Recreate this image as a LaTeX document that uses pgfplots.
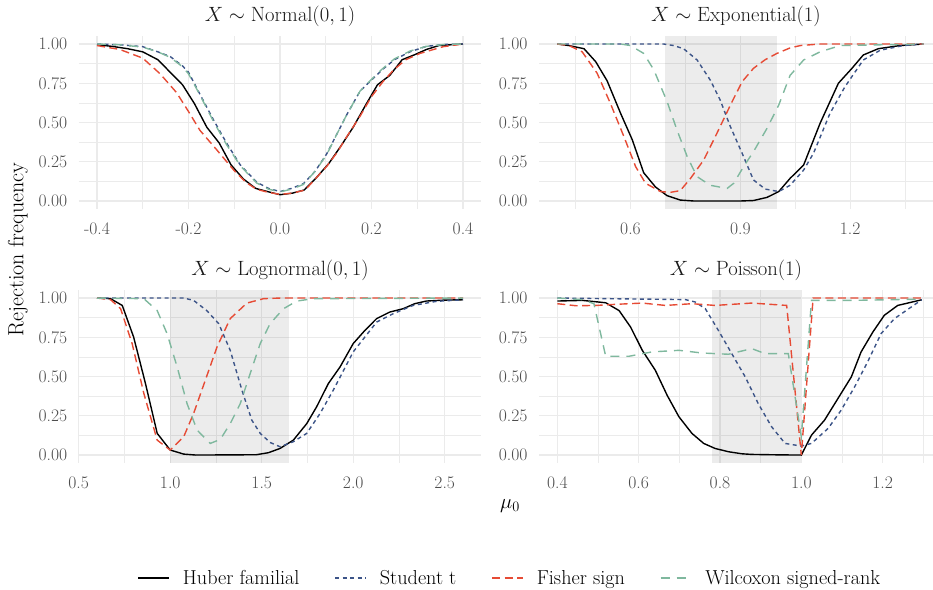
\documentclass[border=0pt]{standalone}
\usepackage{pgfplots}
\pgfplotsset{compat=1.18}
\definecolor{gridc}{HTML}{EBEBEB}
\definecolor{tickc}{HTML}{4D4D4D}
\definecolor{stripc}{HTML}{1A1A1A}
\definecolor{cStudent}{HTML}{3C5488}
\definecolor{cFisher}{HTML}{E64B35}
\definecolor{cWilcox}{HTML}{7FB89E}
\pgfplotsset{
  panel/.style={
    scale only axis, height=172.7bp,
    ymin=-0.05, ymax=1.05,
    ytick={0,0.25,0.5,0.75,1}, yticklabels={0.00,0.25,0.50,0.75,1.00},
    minor ytick={0.125,0.375,0.625,0.875},
    grid=both,
    major grid style={draw=gridc, line width=1.1bp},
    minor grid style={draw=gridc, line width=0.55bp},
    axis line style={draw=none},
    major tick length=0pt, minor tick length=0pt,
    tick style={draw=none},
    tick label style={font=\fontsize{17.6bp}{20bp}\selectfont, text=tickc},
    xticklabel style={anchor=base, yshift=-26bp},
    yticklabel style={anchor=east, xshift=-8bp},
    title style={at={(0.5,1)}, anchor=base, yshift=8.5bp, font=\fontsize{19.5bp}{22bp}\selectfont, text=stripc},
    every axis plot/.append style={line width=1.4bp},
  },
  huber/.style={black, solid},
  student/.style={cStudent, dash pattern=on 4bp off 3.5bp},
  fisher/.style={cFisher, dash pattern=on 8bp off 4.5bp},
  wilcox/.style={cWilcox, dash pattern=on 9bp off 7bp},
  shade/.style={fill=black, fill opacity=0.075, draw=none, forget plot},
}
\begin{document}
\begin{tikzpicture}
% ---------------- Normal
\begin{axis}[panel, at={(78.7bp,381.15bp)}, anchor=south west, width=402.6bp,
  xmin=-0.44, xmax=0.44,
  xtick={-0.4,-0.2,0,0.2,0.4}, xticklabels={-0.4,-0.2,0.0,0.2,0.4},
  minor xtick={-0.3,-0.1,0.1,0.3},
  title={$X \sim \mathrm{Normal}(0,1)$}]
\addplot[huber] coordinates {(-0.4,0.995) (-0.367,0.985) (-0.333,0.97) (-0.3,0.95) (-0.267,0.90) (-0.24,0.82) (-0.213,0.74) (-0.187,0.62) (-0.16,0.47) (-0.133,0.37) (-0.107,0.23) (-0.08,0.14) (-0.053,0.08) (-0.027,0.06) (0,0.04) (0.027,0.05) (0.053,0.07) (0.08,0.15) (0.107,0.24) (0.133,0.35) (0.16,0.47) (0.187,0.61) (0.213,0.74) (0.24,0.80) (0.267,0.90) (0.293,0.93) (0.32,0.965) (0.347,0.99) (0.373,0.995) (0.4,1.0)};
\addplot[student] coordinates {(-0.4,1.0) (-0.35,0.995) (-0.3,0.983) (-0.267,0.95) (-0.24,0.92) (-0.213,0.86) (-0.2,0.82) (-0.175,0.68) (-0.146,0.52) (-0.117,0.37) (-0.087,0.23) (-0.051,0.12) (-0.025,0.08) (0,0.06) (0.025,0.08) (0.051,0.11) (0.077,0.19) (0.102,0.30) (0.125,0.43) (0.146,0.55) (0.175,0.70) (0.2,0.77) (0.225,0.84) (0.25,0.90) (0.284,0.95) (0.32,0.985) (0.36,0.997) (0.4,1.0)};
\addplot[fisher] coordinates {(-0.4,0.99) (-0.35,0.965) (-0.3,0.91) (-0.262,0.81) (-0.226,0.69) (-0.2,0.57) (-0.175,0.45) (-0.138,0.325) (-0.102,0.20) (-0.075,0.12) (-0.051,0.074) (-0.025,0.055) (0,0.042) (0.027,0.05) (0.055,0.07) (0.08,0.15) (0.102,0.22) (0.125,0.31) (0.146,0.41) (0.175,0.54) (0.2,0.665) (0.225,0.76) (0.248,0.834) (0.275,0.9) (0.306,0.94) (0.357,0.983) (0.4,1.0)};
\addplot[wilcox] coordinates {(-0.4,1.0) (-0.35,0.995) (-0.3,0.98) (-0.267,0.95) (-0.24,0.915) (-0.213,0.855) (-0.2,0.81) (-0.175,0.675) (-0.146,0.51) (-0.117,0.36) (-0.087,0.225) (-0.051,0.115) (-0.025,0.075) (0,0.058) (0.025,0.075) (0.051,0.105) (0.077,0.19) (0.102,0.295) (0.125,0.43) (0.146,0.55) (0.175,0.70) (0.2,0.775) (0.225,0.845) (0.25,0.905) (0.284,0.955) (0.32,0.985) (0.36,0.997) (0.4,1.0)};
\end{axis}
% ---------------- Exponential
\begin{axis}[panel, at={(539bp,381.15bp)}, anchor=south west, width=394bp,
  xmin=0.35, xmax=1.4265,
  xtick={0.6,0.9,1.2}, xticklabels={0.6,0.9,1.2},
  minor xtick={0.45,0.75,1.05,1.35},
  title={$X \sim \mathrm{Exponential}(1)$}]
\addplot[shade] coordinates {(0.6931,-0.05) (1,-0.05) (1,1.05) (0.6931,1.05)} -- cycle;
\addplot[huber] coordinates {(0.4,1.0) (0.432,0.99) (0.473,0.97) (0.505,0.887) (0.536,0.766) (0.573,0.558) (0.605,0.389) (0.636,0.18) (0.668,0.09) (0.7,0.034) (0.736,0.006) (0.773,0.0) (0.9,0.0) (0.936,0.003) (0.973,0.023) (1.005,0.06) (1.036,0.144) (1.073,0.229) (1.118,0.495) (1.168,0.75) (1.205,0.845) (1.236,0.93) (1.277,0.97) (1.336,0.99) (1.4,1.0)};
\addplot[student] coordinates {(0.4,1.0) (0.69,1.0) (0.718,0.99) (0.745,0.97) (0.782,0.898) (0.818,0.77) (0.845,0.643) (0.873,0.473) (0.905,0.304) (0.936,0.134) (0.968,0.076) (1.005,0.06) (1.036,0.10) (1.073,0.197) (1.1,0.304) (1.145,0.558) (1.186,0.728) (1.236,0.898) (1.282,0.96) (1.345,0.99) (1.4,1.0)};
\addplot[fisher] coordinates {(0.4,1.0) (0.432,0.99) (0.468,0.95) (0.509,0.813) (0.545,0.622) (0.582,0.41) (0.614,0.219) (0.641,0.113) (0.682,0.06) (0.709,0.055) (0.736,0.066) (0.764,0.144) (0.8,0.261) (0.836,0.431) (0.873,0.611) (0.905,0.76) (0.936,0.845) (0.968,0.90) (1.0,0.94) (1.036,0.975) (1.064,0.99) (1.118,1.0) (1.4,1.0)};
\addplot[wilcox] coordinates {(0.4,1.0) (0.573,1.0) (0.6,0.99) (0.636,0.94) (0.664,0.834) (0.7,0.633) (0.727,0.452) (0.755,0.282) (0.782,0.155) (0.818,0.10) (0.864,0.08) (0.882,0.113) (0.909,0.219) (0.936,0.314) (0.973,0.463) (1.005,0.611) (1.036,0.80) (1.073,0.898) (1.118,0.95) (1.173,0.99) (1.4,1.0)};
\end{axis}
% ---------------- Lognormal
\begin{axis}[panel, at={(78.7bp,127.1bp)}, anchor=south west, width=402.6bp,
  xmin=0.5, xmax=2.7,
  xtick={0.5,1,1.5,2,2.5}, xticklabels={0.5,1.0,1.5,2.0,2.5},
  minor xtick={0.75,1.25,1.75,2.25},
  title={$X \sim \mathrm{Lognormal}(0,1)$},
  legend columns=4,
  legend style={at={(1.071,-0.666)}, anchor=center, draw=none, fill=none,
    font=\fontsize{20.2bp}{23bp}\selectfont, text=black,
    /tikz/every odd column/.append style={column sep=11bp},
    /tikz/every even column/.append style={column sep=33bp}},
  legend image code/.code={\draw[#1, line width=1.4bp] (0bp,0bp) -- (31bp,0bp);}]
\addplot[shade] coordinates {(1,-0.05) (1.6487,-0.05) (1.6487,1.05) (1,1.05)} -- cycle;
\addplot[huber] coordinates {(0.6,1.0) (0.674,0.996) (0.738,0.953) (0.8,0.752) (0.865,0.455) (0.929,0.138) (1.0,0.032) (1.074,0.006) (1.14,0.0) (1.47,0.002) (1.537,0.015) (1.6,0.042) (1.673,0.095) (1.746,0.20) (1.80,0.307) (1.864,0.455) (1.928,0.561) (2.0,0.71) (2.064,0.794) (2.128,0.869) (2.2,0.911) (2.273,0.932) (2.336,0.964) (2.4,0.981) (2.5,0.987) (2.6,0.989)};
\addlegendentry{Huber familial}
\addplot[student] coordinates {(0.6,1.0) (1.074,1.0) (1.128,0.985) (1.2,0.92) (1.265,0.837) (1.328,0.667) (1.392,0.413) (1.446,0.222) (1.492,0.138) (1.546,0.08) (1.6,0.053) (1.673,0.085) (1.746,0.138) (1.819,0.265) (1.891,0.413) (2.0,0.657) (2.128,0.847) (2.218,0.90) (2.327,0.953) (2.455,0.979) (2.6,0.989)};
\addlegendentry{Student t}
\addplot[fisher] coordinates {(0.6,1.0) (0.674,0.99) (0.729,0.932) (0.792,0.71) (0.856,0.392) (0.929,0.095) (1.0,0.032) (1.074,0.117) (1.128,0.265) (1.192,0.477) (1.256,0.689) (1.328,0.869) (1.419,0.968) (1.51,0.996) (1.6,1.0) (2.6,1.0)};
\addlegendentry{Fisher sign}
\addplot[wilcox] coordinates {(0.6,1.0) (0.856,0.996) (0.929,0.92) (0.983,0.773) (1.038,0.561) (1.092,0.328) (1.147,0.159) (1.219,0.074) (1.274,0.10) (1.328,0.20) (1.383,0.328) (1.437,0.519) (1.492,0.71) (1.546,0.837) (1.619,0.932) (1.692,0.981) (1.783,0.996) (2.6,1.0)};
\addlegendentry{Wilcoxon signed-rank}
\end{axis}
% ---------------- Poisson
\begin{axis}[panel, at={(539bp,127.1bp)}, anchor=south west, width=394bp,
  xmin=0.355, xmax=1.3238,
  xtick={0.4,0.6,0.8,1.0,1.2}, xticklabels={0.4,0.6,0.8,1.0,1.2},
  minor xtick={0.5,0.7,0.9,1.1,1.3},
  title={$X \sim \mathrm{Poisson}(1)$}]
\addplot[shade] coordinates {(0.78,-0.05) (1,-0.05) (1,1.05) (0.78,1.05)} -- cycle;
\addplot[huber] coordinates {(0.4,0.981) (0.462,0.985) (0.519,0.97) (0.552,0.92) (0.58,0.816) (0.609,0.667) (0.641,0.54) (0.67,0.381) (0.699,0.244) (0.731,0.138) (0.76,0.074) (0.788,0.042) (0.821,0.021) (0.854,0.008) (0.878,0.004) (0.95,0.001) (1.0,0.0) (1.025,0.127) (1.057,0.222) (1.09,0.36) (1.123,0.498) (1.147,0.657) (1.176,0.784) (1.204,0.89) (1.237,0.953) (1.296,0.989)};
\addplot[student] coordinates {(0.4,1.0) (0.715,0.99) (0.739,0.975) (0.764,0.932) (0.796,0.794) (0.829,0.646) (0.862,0.498) (0.894,0.328) (0.927,0.18) (0.96,0.074) (1.0,0.057) (1.025,0.074) (1.066,0.17) (1.098,0.286) (1.131,0.434) (1.163,0.593) (1.196,0.773) (1.229,0.869) (1.296,0.989)};
\addplot[fisher] coordinates {(0.4,0.964) (0.446,0.951) (0.495,0.953) (0.544,0.96) (0.609,0.968) (0.666,0.953) (0.731,0.964) (0.788,0.953) (0.878,0.968) (0.964,0.953) (1.0,0.0) (1.029,1.0) (1.296,1.0)};
\addplot[wilcox] coordinates {(0.4,1.0) (0.462,0.99) (0.49,0.964) (0.519,0.629) (0.576,0.629) (0.633,0.657) (0.699,0.667) (0.756,0.65) (0.821,0.642) (0.878,0.678) (0.911,0.646) (0.968,0.646) (1.0,0.117) (1.025,0.985) (1.123,0.985) (1.296,0.993)};
\end{axis}
\node[rotate=90, font=\fontsize{22bp}{26bp}\selectfont] at (18bp,340.5bp) {Rejection frequency};
\node[font=\fontsize{22bp}{26bp}\selectfont] at (510bp,84bp) {$\mu_0$};
\pgfresetboundingbox
\useasboundingbox (0bp,0bp) rectangle (933bp,590bp);
\end{tikzpicture}
\end{document}
